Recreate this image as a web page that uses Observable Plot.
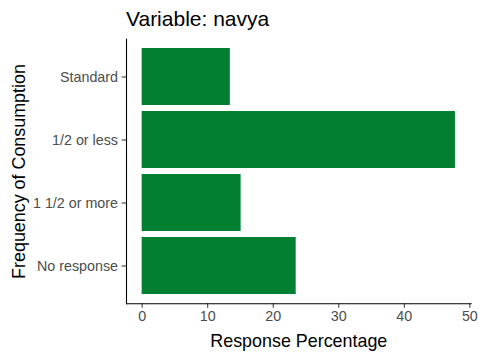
<!DOCTYPE html>
<html>
<head>
<meta charset="utf-8">
<script src="https://cdn.jsdelivr.net/npm/d3@7"></script>
<script src="https://cdn.jsdelivr.net/npm/@observablehq/plot@0.6"></script>
<style>
  body { margin: 0; background: #fff; }
  #chart { position: relative; width: 480px; height: 360px; }
  #title { position: absolute; left: 126px; top: 8px; font-family: "Liberation Sans", Arial, sans-serif; font-size: 21px; color: #000; line-height: 1; white-space: nowrap; }
</style>
</head>
<body>
<div id="chart"><div id="title">Variable: navya</div></div>
<script>
const categories = ["Standard", "1/2 or less", "1 1/2 or more", "No response"];
const values = [13.45, 47.8, 15.1, 23.5];
const xTicks = [0, 10, 20, 30, 40, 50];

const data = categories.map((c, i) => ({category: c, value: values[i]}));
const maxV = d3.max(values);
const xDomain = [0 - 0.05 * maxV, maxV * 1.05];

const plot = Plot.plot({
  width: 480,
  height: 360,
  marginLeft: 126,
  marginRight: 9.4,
  marginTop: 38.7,
  marginBottom: 56.7,
  style: {fontFamily: "Liberation Sans, Arial, sans-serif", fontSize: "14.3px", color: "#4D4D4D", background: "#fff"},
  x: {domain: xDomain, ticks: xTicks, label: null},
  y: {domain: categories, paddingInner: 0.1, paddingOuter: 0.15, label: null},
  marks: [
    Plot.barX(data, {x: "value", y: "category", fill: "#027F30"}),
    Plot.axisX({ticks: xTicks, tickSize: 4.5, tickPadding: 3, stroke: "#333", fill: "#4D4D4D", fontSize: 14.3, label: null}),
    Plot.axisY({tickSize: 4.5, tickPadding: 4, stroke: "#333", fill: "#4D4D4D", fontSize: 14.3, label: null}),
    Plot.axisX({ticks: [], tickSize: 0, label: "Response Percentage", labelAnchor: "center", labelOffset: 43, fontSize: 17.9, fill: "#000", labelArrow: "none"}),
    Plot.axisY({ticks: [], tickSize: 0, label: "Frequency of Consumption", labelAnchor: "center", labelOffset: 114, fontSize: 17.9, fill: "#000", labelArrow: "none"}),
    Plot.frame({anchor: "left", stroke: "#000", strokeWidth: 1.1}),
    Plot.frame({anchor: "bottom", stroke: "#000", strokeWidth: 1.1})
  ]
});
document.getElementById("chart").appendChild(plot);
</script>
</body>
</html>
